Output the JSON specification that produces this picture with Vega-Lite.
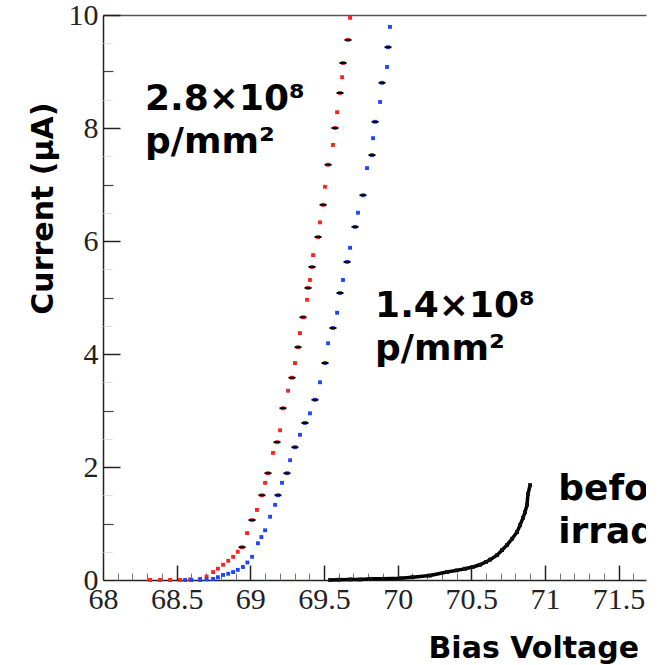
{
  "$schema": "https://vega.github.io/schema/vega-lite/v6.json",
  "width": 543,
  "height": 565,
  "autosize": {"type": "none"},
  "padding": {"left": 103, "top": 15, "right": 20, "bottom": 85},
  "background": "white",
  "config": {"view": {"stroke": null}, "axis": {"grid": false}},
  "datasets": {
    "curves": [
      {"s": "2.8e8", "V": 68.319, "I": 0, "e": 0},
      {"s": "2.8e8", "V": 68.387, "I": 0, "e": 0},
      {"s": "2.8e8", "V": 68.455, "I": 0, "e": 0},
      {"s": "2.8e8", "V": 68.523, "I": 0, "e": 0},
      {"s": "2.8e8", "V": 68.591, "I": 0.01, "e": 0},
      {"s": "2.8e8", "V": 68.659, "I": 0.02, "e": 0},
      {"s": "2.8e8", "V": 68.703, "I": 0.06, "e": 0},
      {"s": "2.8e8", "V": 68.747, "I": 0.14, "e": 0},
      {"s": "2.8e8", "V": 68.78, "I": 0.2, "e": 0},
      {"s": "2.8e8", "V": 68.815, "I": 0.27, "e": 0},
      {"s": "2.8e8", "V": 68.85, "I": 0.34, "e": 0},
      {"s": "2.8e8", "V": 68.883, "I": 0.41, "e": 0},
      {"s": "2.8e8", "V": 68.915, "I": 0.5, "e": 0},
      {"s": "2.8e8", "V": 68.944, "I": 0.58, "e": 1},
      {"s": "2.8e8", "V": 68.978, "I": 0.83, "e": 0},
      {"s": "2.8e8", "V": 69.012, "I": 1.06, "e": 1},
      {"s": "2.8e8", "V": 69.045, "I": 1.24, "e": 0},
      {"s": "2.8e8", "V": 69.079, "I": 1.5, "e": 1},
      {"s": "2.8e8", "V": 69.1, "I": 1.72, "e": 0},
      {"s": "2.8e8", "V": 69.12, "I": 1.89, "e": 1},
      {"s": "2.8e8", "V": 69.154, "I": 2.25, "e": 0},
      {"s": "2.8e8", "V": 69.181, "I": 2.44, "e": 1},
      {"s": "2.8e8", "V": 69.202, "I": 2.65, "e": 0},
      {"s": "2.8e8", "V": 69.222, "I": 3.04, "e": 1},
      {"s": "2.8e8", "V": 69.256, "I": 3.35, "e": 0},
      {"s": "2.8e8", "V": 69.283, "I": 3.58, "e": 1},
      {"s": "2.8e8", "V": 69.303, "I": 3.84, "e": 0},
      {"s": "2.8e8", "V": 69.324, "I": 4.12, "e": 1},
      {"s": "2.8e8", "V": 69.337, "I": 4.37, "e": 0},
      {"s": "2.8e8", "V": 69.358, "I": 4.65, "e": 1},
      {"s": "2.8e8", "V": 69.385, "I": 4.96, "e": 0},
      {"s": "2.8e8", "V": 69.392, "I": 5.17, "e": 1},
      {"s": "2.8e8", "V": 69.405, "I": 5.31, "e": 0},
      {"s": "2.8e8", "V": 69.419, "I": 5.54, "e": 1},
      {"s": "2.8e8", "V": 69.426, "I": 5.75, "e": 0},
      {"s": "2.8e8", "V": 69.46, "I": 6.07, "e": 1},
      {"s": "2.8e8", "V": 69.473, "I": 6.33, "e": 0},
      {"s": "2.8e8", "V": 69.494, "I": 6.64, "e": 1},
      {"s": "2.8e8", "V": 69.507, "I": 6.96, "e": 0},
      {"s": "2.8e8", "V": 69.528, "I": 7.35, "e": 1},
      {"s": "2.8e8", "V": 69.561, "I": 7.7, "e": 0},
      {"s": "2.8e8", "V": 69.575, "I": 8.0, "e": 1},
      {"s": "2.8e8", "V": 69.589, "I": 8.28, "e": 0},
      {"s": "2.8e8", "V": 69.609, "I": 8.62, "e": 1},
      {"s": "2.8e8", "V": 69.623, "I": 8.9, "e": 0},
      {"s": "2.8e8", "V": 69.629, "I": 9.15, "e": 1},
      {"s": "2.8e8", "V": 69.663, "I": 9.56, "e": 1},
      {"s": "2.8e8", "V": 69.677, "I": 9.95, "e": 0},
      {"s": "1.4e8", "V": 68.557, "I": 0, "e": 0},
      {"s": "1.4e8", "V": 68.6, "I": 0, "e": 0},
      {"s": "1.4e8", "V": 68.659, "I": 0, "e": 0},
      {"s": "1.4e8", "V": 68.703, "I": 0.01, "e": 0},
      {"s": "1.4e8", "V": 68.747, "I": 0.02, "e": 0},
      {"s": "1.4e8", "V": 68.78, "I": 0.05, "e": 0},
      {"s": "1.4e8", "V": 68.815, "I": 0.09, "e": 0},
      {"s": "1.4e8", "V": 68.85, "I": 0.11, "e": 0},
      {"s": "1.4e8", "V": 68.883, "I": 0.14, "e": 0},
      {"s": "1.4e8", "V": 68.915, "I": 0.18, "e": 0},
      {"s": "1.4e8", "V": 68.95, "I": 0.23, "e": 0},
      {"s": "1.4e8", "V": 68.98, "I": 0.31, "e": 0},
      {"s": "1.4e8", "V": 69.012, "I": 0.41, "e": 0},
      {"s": "1.4e8", "V": 69.052, "I": 0.65, "e": 0},
      {"s": "1.4e8", "V": 69.075, "I": 0.76, "e": 0},
      {"s": "1.4e8", "V": 69.1, "I": 0.88, "e": 0},
      {"s": "1.4e8", "V": 69.134, "I": 1.12, "e": 0},
      {"s": "1.4e8", "V": 69.168, "I": 1.33, "e": 0},
      {"s": "1.4e8", "V": 69.188, "I": 1.5, "e": 1},
      {"s": "1.4e8", "V": 69.215, "I": 1.72, "e": 0},
      {"s": "1.4e8", "V": 69.249, "I": 1.89, "e": 1},
      {"s": "1.4e8", "V": 69.27, "I": 2.12, "e": 0},
      {"s": "1.4e8", "V": 69.303, "I": 2.35, "e": 1},
      {"s": "1.4e8", "V": 69.337, "I": 2.57, "e": 0},
      {"s": "1.4e8", "V": 69.371, "I": 2.78, "e": 1},
      {"s": "1.4e8", "V": 69.405, "I": 2.95, "e": 0},
      {"s": "1.4e8", "V": 69.439, "I": 3.19, "e": 1},
      {"s": "1.4e8", "V": 69.473, "I": 3.5, "e": 0},
      {"s": "1.4e8", "V": 69.507, "I": 3.84, "e": 1},
      {"s": "1.4e8", "V": 69.528, "I": 4.19, "e": 0},
      {"s": "1.4e8", "V": 69.561, "I": 4.46, "e": 1},
      {"s": "1.4e8", "V": 69.589, "I": 4.73, "e": 0},
      {"s": "1.4e8", "V": 69.609, "I": 5.08, "e": 1},
      {"s": "1.4e8", "V": 69.629, "I": 5.31, "e": 0},
      {"s": "1.4e8", "V": 69.657, "I": 5.63, "e": 1},
      {"s": "1.4e8", "V": 69.677, "I": 5.88, "e": 0},
      {"s": "1.4e8", "V": 69.711, "I": 6.25, "e": 1},
      {"s": "1.4e8", "V": 69.731, "I": 6.5, "e": 0},
      {"s": "1.4e8", "V": 69.765, "I": 6.81, "e": 1},
      {"s": "1.4e8", "V": 69.792, "I": 7.29, "e": 0},
      {"s": "1.4e8", "V": 69.826, "I": 7.52, "e": 1},
      {"s": "1.4e8", "V": 69.833, "I": 7.82, "e": 0},
      {"s": "1.4e8", "V": 69.847, "I": 8.11, "e": 1},
      {"s": "1.4e8", "V": 69.881, "I": 8.46, "e": 0},
      {"s": "1.4e8", "V": 69.894, "I": 8.8, "e": 1},
      {"s": "1.4e8", "V": 69.928, "I": 9.08, "e": 0},
      {"s": "1.4e8", "V": 69.935, "I": 9.43, "e": 1},
      {"s": "1.4e8", "V": 69.948, "I": 9.79, "e": 0},
      {"s": "before", "V": 69.541, "I": 0, "e": 0},
      {"s": "before", "V": 69.6, "I": 0.005, "e": 0},
      {"s": "before", "V": 69.68, "I": 0.01, "e": 0},
      {"s": "before", "V": 69.745, "I": 0.01, "e": 0},
      {"s": "before", "V": 69.82, "I": 0.02, "e": 0},
      {"s": "before", "V": 69.9, "I": 0.02, "e": 0},
      {"s": "before", "V": 70.016, "I": 0.03, "e": 0},
      {"s": "before", "V": 70.1, "I": 0.05, "e": 0},
      {"s": "before", "V": 70.22, "I": 0.08, "e": 0},
      {"s": "before", "V": 70.335, "I": 0.14, "e": 0},
      {"s": "before", "V": 70.4, "I": 0.17, "e": 0},
      {"s": "before", "V": 70.458, "I": 0.2, "e": 0},
      {"s": "before", "V": 70.51, "I": 0.23, "e": 0},
      {"s": "before", "V": 70.559, "I": 0.27, "e": 0},
      {"s": "before", "V": 70.6, "I": 0.32, "e": 0},
      {"s": "before", "V": 70.627, "I": 0.36, "e": 0},
      {"s": "before", "V": 70.675, "I": 0.44, "e": 0},
      {"s": "before", "V": 70.709, "I": 0.53, "e": 0},
      {"s": "before", "V": 70.743, "I": 0.62, "e": 0},
      {"s": "before", "V": 70.777, "I": 0.73, "e": 0},
      {"s": "before", "V": 70.811, "I": 0.85, "e": 0},
      {"s": "before", "V": 70.831, "I": 0.97, "e": 0},
      {"s": "before", "V": 70.851, "I": 1.1, "e": 0},
      {"s": "before", "V": 70.865, "I": 1.2, "e": 0},
      {"s": "before", "V": 70.878, "I": 1.33, "e": 0},
      {"s": "before", "V": 70.885, "I": 1.52, "e": 0},
      {"s": "before", "V": 70.899, "I": 1.68, "e": 0}
    ],
    "notes": [
      {"x": 68.285, "y": 8.32, "t": "2.8×10⁸\np/mm²"},
      {"x": 69.847, "y": 4.65, "t": "1.4×10⁸\np/mm²"},
      {"x": 71.09, "y": 1.42, "t": "before\nirradiation"}
    ]
  },
  "resolve": {"axis": {"x": "independent", "y": "independent"}},
  "layer": [
    {
      "data": {"name": "curves"},
      "transform": [{"filter": "datum.s === 'before'"}],
      "mark": {"type": "line", "color": "black", "strokeWidth": 3.5},
      "encoding": {
        "x": {
          "field": "V", "type": "quantitative",
          "scale": {"domain": [68, 71.686], "nice": false, "zero": false},
          "axis": {
            "orient": "bottom", "values": [68, 68.5, 69, 69.5, 70, 70.5, 71, 71.5],
            "ticks": false, "domain": true, "domainColor": "#222", "domainWidth": 1.5,
            "labels": true, "labelFont": "Liberation Serif", "labelFontSize": 30, "labelColor": "#222",
            "labelPadding": 4, "labelFlush": false, "labelOverlap": false, "format": "~g",
            "title": "Bias Voltage", "titleFont": "DejaVu Sans", "titleFontSize": 30, "titleFontWeight": "bold",
            "titleColor": "black", "titleX": 325, "titleY": 77, "titleAlign": "left", "titleBaseline": "alphabetic"
          }
        },
        "y": {
          "field": "I", "type": "quantitative",
          "scale": {"domain": [0, 10], "nice": false, "zero": false},
          "axis": {
            "orient": "left", "values": [0, 2, 4, 6, 8, 10],
            "ticks": false, "domain": true, "domainColor": "#222", "domainWidth": 1.5,
            "labels": true, "labelFont": "Liberation Serif", "labelFontSize": 30, "labelColor": "#222",
            "labelPadding": 5, "labelFlush": false, "labelOverlap": false,
            "title": "Current (μA)", "titleFont": "DejaVu Sans", "titleFontSize": 30, "titleFontWeight": "bold",
            "titleColor": "black", "titleAngle": -90, "titleX": -51, "titleY": 87, "titleAlign": "right", "titleBaseline": "alphabetic"
          }
        }
      }
    },
    {
      "data": {"name": "curves"},
      "mark": {"type": "square", "size": 15, "opacity": 1},
      "encoding": {
        "x": {
          "field": "V", "type": "quantitative",
          "axis": {
            "orient": "bottom", "values": [68.5, 69, 69.5, 70, 70.5, 71, 71.5],
            "ticks": true, "tickSize": -15, "tickWidth": 1.5, "tickColor": "#222",
            "domain": false, "labels": false, "title": null
          }
        },
        "y": {
          "field": "I", "type": "quantitative",
          "axis": {
            "orient": "left", "values": [2, 4, 6, 8, 10],
            "ticks": true, "tickSize": -17, "tickWidth": 1.5, "tickColor": "#222",
            "domain": false, "labels": false, "title": null
          }
        },
        "color": {
          "field": "s", "type": "nominal",
          "scale": {"domain": ["2.8e8", "1.4e8", "before"], "range": ["#ff2020", "#1f45ff", "#111111"]},
          "legend": null
        }
      }
    },
    {
      "data": {"name": "curves"},
      "transform": [{"filter": "datum.e === 1"}],
      "mark": {"type": "tick", "orient": "horizontal", "color": "#000000", "size": 7, "thickness": 2, "opacity": 1},
      "encoding": {
        "x": {
          "field": "V", "type": "quantitative",
          "axis": {
            "orient": "bottom", "values": [68.1, 68.2, 68.3, 68.4, 68.6, 68.7, 68.8, 68.9, 69.1, 69.2, 69.3, 69.4, 69.6, 69.7, 69.8, 69.9, 70.1, 70.2, 70.3, 70.4, 70.6, 70.7, 70.8, 70.9, 71.1, 71.2, 71.3, 71.4, 71.6],
            "ticks": true, "tickSize": -7, "tickWidth": 1, "tickColor": "#777",
            "domain": false, "labels": false, "title": null
          }
        },
        "y": {
          "field": "I", "type": "quantitative",
          "axis": {
            "orient": "left", "values": [1, 3, 5, 7, 9],
            "ticks": true, "tickSize": -10, "tickWidth": 1.2, "tickColor": "#444",
            "domain": false, "labels": false, "title": null
          }
        }
      }
    },
    {
      "data": {"name": "notes"},
      "mark": {
        "type": "text", "align": "left", "baseline": "alphabetic", "lineBreak": "\n",
        "font": "DejaVu Sans", "fontWeight": "bold", "fontSize": 36, "lineHeight": 43,
        "color": "black", "clip": true
      },
      "encoding": {
        "x": {
          "field": "x", "type": "quantitative",
          "axis": {
            "orient": "top", "ticks": false, "labels": false, "domain": true,
            "domainColor": "#555", "domainWidth": 1.5, "title": null
          }
        },
        "y": {
          "field": "y", "type": "quantitative",
          "axis": {
            "orient": "left", "values": [0.5, 1.5, 2.5, 3.5, 4.5, 5.5, 6.5, 7.5, 8.5, 9.5],
            "ticks": true, "tickSize": -9, "tickWidth": 1, "tickColor": "#ddd",
            "domain": false, "labels": false, "title": null
          }
        },
        "text": {"field": "t", "type": "nominal"}
      }
    }
  ]
}
